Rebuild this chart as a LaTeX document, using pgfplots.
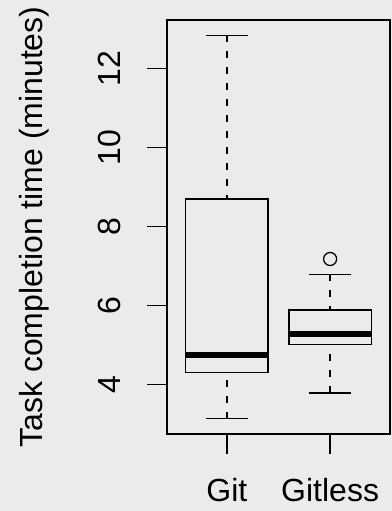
\documentclass[border=0pt]{standalone}
\usepackage{fontspec}
\setmainfont{Liberation Sans}
\usepackage{pgfplots}
\pgfplotsset{compat=1.18}
\definecolor{bg}{HTML}{EBEBEB}

\pgfplotsset{
  boxline/.style={black, line width=1.4bp, solid, no markers},
  whisk/.style={black, line width=1.4bp, dash pattern=on 7bp off 9bp, no markers},
  med/.style={black, line width=6bp, no markers},
}

\begin{document}
\begin{tikzpicture}
\fill[bg] (0,0) rectangle (392bp,511bp);
\begin{axis}[
  at={(167bp,77bp)}, anchor=south west,
  scale only axis, width=223bp, height=414bp,
  xmin=0.42, xmax=2.58, ymin=2.75, ymax=13.23,
  axis line style={line width=1.5bp},
  xtick={1,2}, xticklabels={Git,Gitless},
  ytick={4,6,8,10,12},
  tick pos=left, tick align=outside,
  major tick length=20bp,
  tick style={black, line width=1.3bp},
  /pgf/number format/assume math mode=true,
  tick label style={font=\fontsize{32bp}{38bp}\selectfont},
  label style={font=\fontsize{32bp}{38bp}\selectfont},
  yticklabel style={xshift=-26bp, rotate=90, anchor=base},
  xticklabel style={anchor=base, yshift=-48bp},
  ylabel={Task completion time (minutes)},
  ylabel style={at={([xshift=-124bp]axis description cs:0,0.5)}, anchor=base},
]
% Git: whiskers 3.14 / 12.84, quartiles 4.30 / 8.70, median 4.74
\addplot[whisk] coordinates {(1,3.14) (1,4.30)};
\addplot[whisk] coordinates {(1,12.84) (1,8.70)};
\addplot[boxline] coordinates {(0.8,3.14) (1.2,3.14)};
\addplot[boxline] coordinates {(0.8,12.84) (1.2,12.84)};
\addplot[boxline] coordinates {(0.6,4.30) (1.4,4.30) (1.4,8.70) (0.6,8.70)} -- cycle;
\addplot[med] coordinates {(0.6,4.74) (1.4,4.74)};
% Gitless: whiskers 3.79 / 6.79, quartiles 5.02 / 5.89, median 5.28, outlier 7.18
\addplot[whisk] coordinates {(2,3.79) (2,5.02)};
\addplot[whisk] coordinates {(2,6.79) (2,5.89)};
\addplot[boxline] coordinates {(1.8,3.79) (2.2,3.79)};
\addplot[boxline] coordinates {(1.8,6.79) (2.2,6.79)};
\addplot[boxline] coordinates {(1.6,5.02) (2.4,5.02) (2.4,5.89) (1.6,5.89)} -- cycle;
\addplot[med] coordinates {(1.6,5.28) (2.4,5.28)};
\addplot[black, only marks, mark=o, mark size=6.5bp, mark options={solid, line width=1.3bp}]
  coordinates {(2,7.18)};
\end{axis}
\pgfresetboundingbox
\useasboundingbox (0,0) rectangle (392bp,511bp);
\end{tikzpicture}
\end{document}
